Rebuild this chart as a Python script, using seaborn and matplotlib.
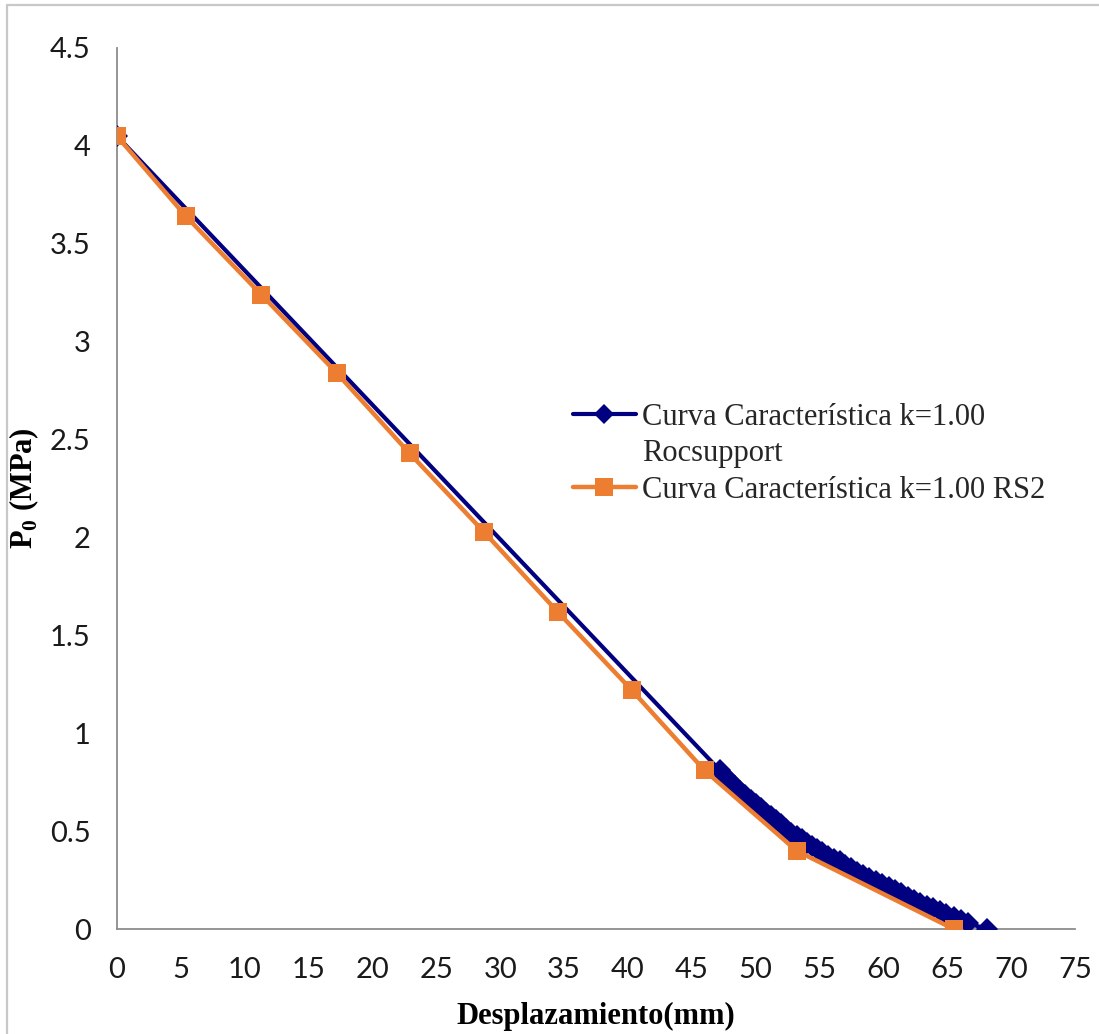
import numpy as np
import pandas as pd
import matplotlib
matplotlib.use("Agg")
import matplotlib.pyplot as plt
from matplotlib.lines import Line2D
import seaborn as sns

# Rocsupport characteristic curve (k = 1.00)
roc_x = [0.0, 47.2, 47.6, 48.0, 48.4, 48.8, 49.2, 49.6, 50.0, 50.4, 50.8,
         51.2, 51.6, 52.0, 52.4, 52.8, 53.2, 53.6, 54.0, 54.4, 54.8, 55.2,
         55.7, 56.1, 56.6, 57.0, 57.5, 57.9, 58.4, 58.9, 59.4, 59.9, 60.4,
         60.9, 61.4, 61.9, 62.4, 62.9, 63.4, 63.9, 64.4, 64.9, 65.5, 66.1,
         66.6, 68.1]
roc_p = [4.05, 0.81, 0.78, 0.755, 0.73, 0.705, 0.685, 0.66, 0.64, 0.62, 0.595,
         0.575, 0.555, 0.535, 0.51, 0.49, 0.475, 0.46, 0.44, 0.425, 0.41, 0.395,
         0.375, 0.36, 0.345, 0.325, 0.31, 0.29, 0.275, 0.26, 0.245, 0.23, 0.215,
         0.20, 0.185, 0.165, 0.15, 0.135, 0.12, 0.105, 0.09, 0.075, 0.06, 0.045,
         0.03, 0.0]

# RS2 characteristic curve (k = 1.00)
rs2_x = [0.0, 5.4, 11.3, 17.2, 22.9, 28.7, 34.5, 40.3, 46.0, 53.2, 65.5]
rs2_p = [4.05, 3.64, 3.24, 2.84, 2.43, 2.03, 1.62, 1.22, 0.81, 0.40, 0.0]

# the Rocsupport label wraps onto a second line under its marker
label_roc_lines = ["Curva Característica k=1.00", "Rocsupport"]
label_rs2 = "Curva Característica k=1.00 RS2"

x_ticks = list(range(0, 80, 5))
y_ticks = [0, 0.5, 1, 1.5, 2, 2.5, 3, 3.5, 4, 4.5]
y_tick_labels = ["0", "0.5", "1", "1.5", "2", "2.5", "3", "3.5", "4", "4.5"]

sns.set_theme(style="white")
plt.rcParams["font.family"] = ["Lato", "DejaVu Sans"]

BLUE = "#000080"
ORANGE = "#ED7D31"
AXIS_GREY = "#8C8C8C"

df_roc = pd.DataFrame({"x": roc_x, "p": roc_p})
df_rs2 = pd.DataFrame({"x": rs2_x, "p": rs2_p})

fig = plt.figure(figsize=(10.99, 10.34), dpi=100)
ax = fig.add_axes([117 / 1099, 105 / 1034, 958 / 1099, 881 / 1034])

sns.lineplot(data=df_roc, x="x", y="p", sort=False, ax=ax, color=BLUE,
             linewidth=3.0, marker="D", markersize=11, markeredgewidth=0,
             zorder=3)
sns.lineplot(data=df_rs2, x="x", y="p", sort=False, ax=ax, color=ORANGE,
             linewidth=3.2, marker="s", markersize=13, markeredgewidth=0,
             zorder=4)

ax.set_xlim(0, 75)
ax.set_ylim(0, 4.5)
ax.set_xticks(x_ticks)
ax.set_xticklabels([str(v) for v in x_ticks])
ax.set_yticks(y_ticks)
ax.set_yticklabels(y_tick_labels)

for side in ["top", "right"]:
    ax.spines[side].set_visible(False)
for side in ["left", "bottom"]:
    ax.spines[side].set_color(AXIS_GREY)
    ax.spines[side].set_linewidth(1.3)

ax.tick_params(axis="both", which="major", direction="out", length=7,
               width=1.3, color=AXIS_GREY, labelsize=21, labelcolor="#1a1a1a")
ax.tick_params(axis="x", pad=13)
ax.tick_params(axis="y", pad=12)
ax.grid(False)

serif = ["Liberation Serif", "DejaVu Serif"]
ax.set_xlabel("Desplazamiento(mm)", fontsize=22, fontweight="bold",
              family=serif, color="black", labelpad=14)
ax.set_ylabel(r"P$_\mathregular{0}$ (MPa)", fontsize=22, fontweight="bold",
              family=serif, color="black")
ax.yaxis.set_label_coords(-0.079, 0.5)

handles = [
    Line2D([0], [0], color=BLUE, lw=3.0, marker="D", markersize=10,
           markeredgewidth=0),
    Line2D([0], [0], color="none", lw=0),
    Line2D([0], [0], color=ORANGE, lw=3.2, marker="s", markersize=13,
           markeredgewidth=0),
]
labels = [label_roc_lines[0], label_roc_lines[1], label_rs2]
leg = ax.legend(handles, labels, loc="upper left",
                bbox_to_anchor=(0.476, 0.597), frameon=False,
                prop={"family": serif, "size": 22}, handlelength=2.05,
                handletextpad=0.2, borderpad=0, borderaxespad=0,
                labelspacing=0.24)

# thin frame line along the top and left edges of the figure
fig.add_artist(Line2D([7 / 1099, 1.0], [1 - 5 / 1034, 1 - 5 / 1034],
                      transform=fig.transFigure, color="#C8C8C8", lw=1.6))
fig.add_artist(Line2D([7 / 1099, 7 / 1099], [0.0, 1 - 5 / 1034],
                      transform=fig.transFigure, color="#C8C8C8", lw=1.6))

fig.savefig("out.png", dpi=100, facecolor="white")
